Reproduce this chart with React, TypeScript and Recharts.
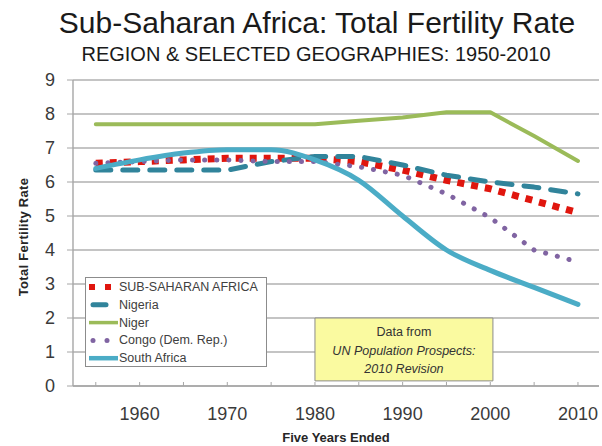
import { LineChart, Line, XAxis, YAxis, CartesianGrid, Legend, ReferenceArea } from "recharts";

const years = [1955, 1960, 1965, 1970, 1975, 1980, 1985, 1990, 1995, 2000, 2005, 2010];
const subSaharanAfrica = [6.55, 6.6, 6.65, 6.7, 6.7, 6.7, 6.6, 6.35, 6.05, 5.8, 5.45, 5.1];
const nigeria = [6.35, 6.35, 6.35, 6.35, 6.6, 6.75, 6.75, 6.5, 6.2, 6.0, 5.85, 5.65];
const niger = [7.7, 7.7, 7.7, 7.7, 7.7, 7.7, 7.8, 7.9, 8.05, 8.05, 7.35, 6.62];
const congo = [6.55, 6.6, 6.65, 6.65, 6.6, 6.6, 6.45, 6.2, 5.65, 4.95, 4.0, 3.65];
const southAfrica = [6.4, 6.65, 6.85, 6.95, 6.95, 6.65, 6.05, 5.0, 4.0, 3.4, 2.9, 2.4];
const yTicks = [0, 1, 2, 3, 4, 5, 6, 7, 8, 9];

const data = years.map((year, i) => ({
  year,
  ssa: subSaharanAfrica[i],
  nigeria: nigeria[i],
  niger: niger[i],
  congo: congo[i],
  southAfrica: southAfrica[i],
}));

const FONT = "'Liberation Sans', Arial, sans-serif";
const AXIS_GRAY = "#a6a6a6";

const SERIES = [
  { key: "ssa", name: "SUB-SAHARAN AFRICA", color: "#e0160e", width: 7, dash: "7 7", cap: "butt" as const },
  { key: "nigeria", name: "Nigeria", color: "#31849b", width: 5, dash: "15 12", cap: "round" as const },
  { key: "niger", name: "Niger", color: "#9bbb59", width: 4, dash: undefined, cap: "round" as const },
  { key: "congo", name: "Congo (Dem. Rep.)", color: "#8064a2", width: 5, dash: "0.1 12", cap: "round" as const },
  { key: "southAfrica", name: "South Africa", color: "#4bacc6", width: 5, dash: undefined, cap: "round" as const },
];

const XTick = (props: any) => {
  const { x, y, payload } = props;
  return (
    <g>
      <line x1={x} x2={x} y1={y} y2={y - 4} stroke={AXIS_GRAY} />
      {payload.value % 10 === 0 && (
        <text x={x} y={y + 34} textAnchor="middle" fontSize={18} fill="#3a3a3a" fontFamily={FONT}>
          {payload.value}
        </text>
      )}
    </g>
  );
};

const renderLegend = () => (
  <div style={{ background: "#fff", border: "1px solid #8c8c8c", width: 182, height: 90, boxSizing: "border-box" }}>
    <svg width={180} height={88} style={{ display: "block", overflow: "visible" }}>
      {SERIES.map((s, i) => {
        const cy = 9 + i * 17.8;
        let sample;
        if (s.key === "ssa") {
          sample = <line x1={3} x2={29} y1={cy} y2={cy} stroke={s.color} strokeWidth={6} strokeDasharray="6 10" />;
        } else if (s.key === "nigeria") {
          sample = <line x1={7} x2={20} y1={cy} y2={cy} stroke={s.color} strokeWidth={5} strokeLinecap="round" />;
        } else if (s.key === "congo") {
          sample = (
            <g fill={s.color}>
              <circle cx={7} cy={cy} r={2.5} />
              <circle cx={21} cy={cy} r={2.5} />
            </g>
          );
        } else {
          sample = <line x1={3} x2={32} y1={cy} y2={cy} stroke={s.color} strokeWidth={s.width - 0.5} />;
        }
        return (
          <g key={s.key}>
            {sample}
            <text x={33} y={cy + 4} fontSize={12.5} fill="#404040" fontFamily={FONT}>
              {s.name}
            </text>
          </g>
        );
      })}
    </svg>
  </div>
);

const renderNote = (props: any) => {
  const { viewBox } = props;
  const cx = viewBox.x + viewBox.width / 2;
  const top = viewBox.y;
  return (
    <g fontFamily={FONT} fontSize={12.5} fill="#333" textAnchor="middle">
      <text x={cx} y={top + 18}>Data from</text>
      <text x={cx} y={top + 37} fontStyle="italic">UN Population Prospects:</text>
      <text x={cx} y={top + 55} fontStyle="italic">2010 Revision</text>
    </g>
  );
};

const renderYLabel = (props: any) => {
  const { viewBox } = props;
  const x = viewBox.x + 23;
  const y = viewBox.y + viewBox.height / 2 + 4;
  return (
    <text
      x={x}
      y={y}
      transform={`rotate(-90 ${x} ${y})`}
      textAnchor="middle"
      dominantBaseline="central"
      fontSize={13}
      fontWeight="bold"
      letterSpacing={0.3}
      fill="#262626"
      fontFamily={FONT}
    >
      Total Fertility Rate
    </text>
  );
};

export default function App() {
  return (
    <div style={{ position: "absolute", left: 0, top: 0, width: 602, height: 446, background: "#fff" }}>
      <svg width={602} height={80} style={{ position: "absolute", left: 0, top: 0 }}>
        <text x={317} y={33} textAnchor="middle" fontSize={30} fill="#1a1a1a" fontFamily={FONT}>
          Sub-Saharan Africa: Total Fertility Rate
        </text>
        <text x={316} y={61} textAnchor="middle" fontSize={20} fill="#1a1a1a" fontFamily={FONT}>
          REGION &amp; SELECTED GEOGRAPHIES: 1950-2010
        </text>
      </svg>
      <LineChart width={602} height={446} data={data} margin={{ top: 80, right: 3, bottom: 0, left: 0 }}>
        <CartesianGrid vertical={false} stroke="#b0b0b0" strokeWidth={1.4} />
        <XAxis
          dataKey="year"
          type="number"
          domain={[1952.4, 2012.4]}
          ticks={years}
          interval={0}
          allowDataOverflow
          height={60}
          tickSize={0}
          tickMargin={0}
          tickLine={false}
          tick={<XTick />}
          axisLine={{ stroke: AXIS_GRAY, strokeWidth: 1.4 }}
          label={{
            value: "Five Years Ended",
            position: "insideBottom",
            offset: 4,
            fontSize: 13,
            fontWeight: "bold",
            fill: "#262626",
            fontFamily: FONT,
          }}
        />
        <YAxis
          domain={[0, 9]}
          ticks={yTicks}
          interval={0}
          width={73}
          tickSize={6}
          tickMargin={12}
          tickLine={{ stroke: AXIS_GRAY }}
          axisLine={{ stroke: AXIS_GRAY, strokeWidth: 1.4 }}
          tick={{ fontSize: 18, fill: "#3a3a3a", fontFamily: FONT }}
          label={{ content: renderYLabel }}
        />
        <ReferenceArea
          x1={1980}
          x2={2000.3}
          y1={0.15}
          y2={2}
          fill="#fafaa0"
          fillOpacity={1}
          stroke="#8c8c8c"
          strokeWidth={1}
          label={renderNote}
        />
        {SERIES.map((s) => (
          <Line
            key={s.key}
            dataKey={s.key}
            name={s.name}
            type={s.key === "southAfrica" ? "monotone" : "linear"}
            stroke={s.color}
            strokeWidth={s.width}
            strokeDasharray={s.dash}
            strokeLinecap={s.cap}
            strokeLinejoin="round"
            dot={false}
            activeDot={false}
            isAnimationActive={false}
          />
        ))}
        <Legend
          layout="horizontal"
          verticalAlign="middle"
          align="center"
          content={renderLegend}
          wrapperStyle={{ left: 85, top: 277, width: 182, height: 90 }}
        />
      </LineChart>
    </div>
  );
}
